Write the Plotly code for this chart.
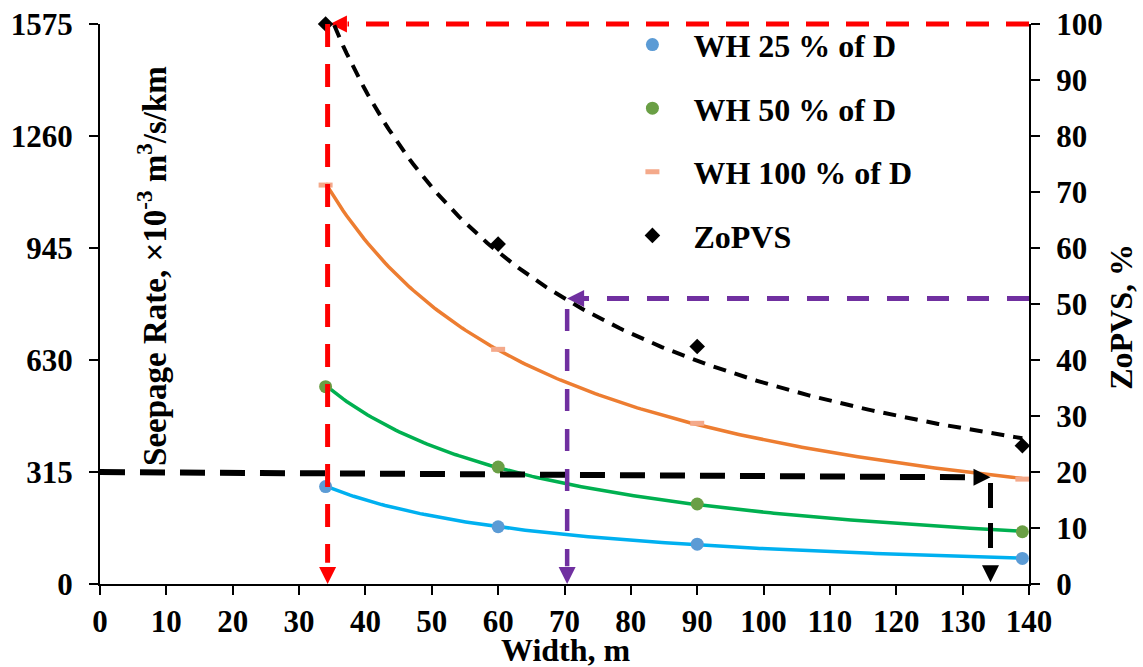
import numpy as np
import plotly.graph_objects as go

# ---- data -------------------------------------------------------------
width_m = [34, 60, 90, 139]
wh25 = [274, 161, 112, 72]
wh50 = [555, 329, 225, 147]
wh100 = [1122, 660, 452, 295]
zopvs = [100, 60.7, 42.4, 24.7]

x_ticks = list(range(0, 141, 10))
y_ticks = [0, 315, 630, 945, 1260, 1575]
y2_ticks = list(range(0, 101, 10))

# guide lines (read-off helpers)
w_red = 34.3          # width at 100 % ZoPVS
w_purple = 70.4       # width at ~51 % ZoPVS
z_purple = 51
q_black = 315         # seepage threshold
q_black_end = 300
w_black = 134.2

Y_MAX = 1575
Y2_MAX = 100
TICK_FONT = dict(family="Liberation Serif", size=31, color="black", weight="bold")
FONT = dict(family="Liberation Serif", size=32, color="black", weight="bold")
YTITLE_FONT = dict(family="Liberation Serif", size=33, color="black", weight="bold")


def power_fit(x, y, n=200):
    b, ln_a = np.polyfit(np.log(x), np.log(y), 1)
    xs = np.linspace(min(x), max(x), n)
    return xs, np.exp(ln_a) * xs ** b


fig = go.Figure()

# power trend lines
for vals, col in [(wh25, "#00B0F0"), (wh50, "#00B050"), (wh100, "#ED7D31")]:
    xs, ys = power_fit(width_m, vals)
    fig.add_trace(go.Scatter(x=xs, y=ys, mode="lines", line=dict(color=col, width=3.5),
                             showlegend=False, hoverinfo="skip"))
xs, ys = power_fit(width_m, zopvs)
fig.add_trace(go.Scatter(x=xs, y=ys, yaxis="y2", mode="lines",
                         line=dict(color="black", width=4, dash="13px,9px"),
                         showlegend=False, hoverinfo="skip"))

# measured points
fig.add_trace(go.Scatter(x=width_m, y=wh25, mode="markers", name="WH 25 % of D",
                         marker=dict(symbol="circle", size=13, color="#5B9BD5"),
                         cliponaxis=False, legendgroup="a"))
fig.add_trace(go.Scatter(x=width_m, y=wh50, mode="markers", name="WH 50 % of D",
                         marker=dict(symbol="circle", size=13, color="#6A9F45"),
                         cliponaxis=False, legendgroup="b"))
fig.add_trace(go.Scatter(x=width_m, y=wh100, mode="markers", name="WH 100 % of D",
                         marker=dict(symbol="line-ew", size=10,
                                     line=dict(color="#F4A98A", width=5)),
                         cliponaxis=False, legendgroup="c"))
fig.add_trace(go.Scatter(x=width_m, y=zopvs, yaxis="y2", mode="markers", name="ZoPVS",
                         marker=dict(symbol="diamond", size=12, color="black"),
                         cliponaxis=False, legendgroup="d"))

# arrow heads of the guide lines
heads = [
    (w_red, 0, "arrow-down", "#FF0000"),
    (w_red + 0.35, Y_MAX, "arrow-left", "#FF0000"),
    (w_purple, 0, "arrow-down", "#7030A0"),
    (w_purple, z_purple / Y2_MAX * Y_MAX, "arrow-left", "#7030A0"),
    (w_black, q_black_end, "arrow-right", "black"),
    (w_black, 5, "arrow-down", "black"),
]
for hx, hy, sym, col in heads:
    fig.add_trace(go.Scatter(x=[hx], y=[hy], mode="markers", showlegend=False,
                             marker=dict(symbol=sym, size=17, color=col),
                             cliponaxis=False, hoverinfo="skip"))

# dashed guide lines
def guide(x0, y0, x1, y1, col, w, dash, xref="x", yref="y"):
    fig.add_shape(type="line", x0=x0, y0=y0, x1=x1, y1=y1, xref=xref, yref=yref,
                  line=dict(color=col, width=w, dash=dash), layer="above")

guide(w_red, Y_MAX, w_red, 60, "#FF0000", 5, "23px,17px")
guide(140, 1, w_red + 3, 1, "#FF0000", 5, "23px,17px", yref="paper")
guide(140, z_purple, w_purple + 2.4, z_purple, "#7030A0", 5, "22px,18px", yref="y2")
guide(w_purple, z_purple / Y2_MAX * Y_MAX - 30, w_purple, 50, "#7030A0", 4.5, "22px,18px")
guide(0, q_black, w_black - 2.4, q_black_end, "black", 6, "25px,15px")
guide(w_black, 284, w_black, 60, "black", 5, "25px,15px")

axis_common = dict(showline=True, linecolor="black", linewidth=2, ticks="outside",
                   ticklen=9, tickwidth=2, tickcolor="black", showgrid=False,
                   zeroline=False, tickfont=TICK_FONT)

fig.update_layout(
    width=1143, height=667,
    margin=dict(l=100, r=114, t=24, b=83, autoexpand=False),
    plot_bgcolor="white", paper_bgcolor="white",
    font=FONT,
    xaxis=dict(range=[0, 140], tickvals=x_ticks, **axis_common),
    yaxis=dict(range=[0, Y_MAX], tickvals=y_ticks, ticklabelstandoff=10, **axis_common),
    yaxis2=dict(range=[0, Y2_MAX], tickvals=y2_ticks, overlaying="y", side="right",
                ticklabelstandoff=10, **axis_common),
    legend=dict(x=0.5505, y=1.012, xanchor="left", yanchor="top", bgcolor="rgba(0,0,0,0)",
                font=FONT, tracegroupgap=19, itemwidth=72),
    annotations=[
        dict(text="Width, m", xref="paper", yref="paper", x=0.502, y=-0.118,
             xanchor="center", yanchor="middle", showarrow=False, font=FONT),
        dict(text="Seepage Rate, ×10<sup>-3</sup> m<sup>3</sup>/s/km", xref="paper",
             yref="paper", x=0.056, y=0.568, xanchor="center", yanchor="middle",
             textangle=-90, showarrow=False, font=YTITLE_FONT),
        dict(text="ZoPVS, %", xref="paper", yref="paper", x=1.099, y=0.477,
             xanchor="center", yanchor="middle", textangle=-90, showarrow=False, font=FONT),
    ],
)

fig.write_html("out.html")
